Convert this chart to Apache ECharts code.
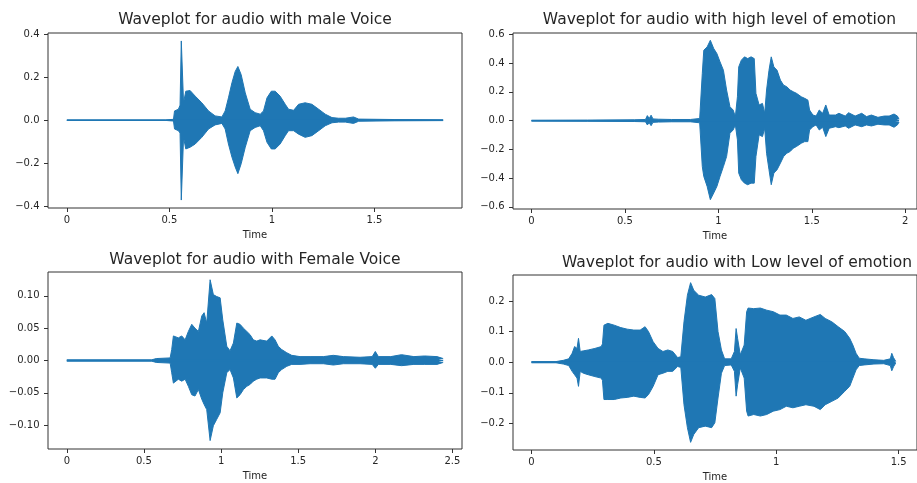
<!DOCTYPE html>
<html>
<head>
<meta charset="utf-8">
<script src="https://cdn.jsdelivr.net/npm/echarts@6/dist/echarts.min.js"></script>
<style>
  html, body { margin: 0; padding: 0; background: #fff; }
  #chart { width: 917px; height: 483px; }
</style>
</head>
<body>
<div id="chart"></div>
<script>
// male voice
var time1 = [0, 0.48, 0.52, 0.525, 0.544, 0.552, 0.558, 0.569, 0.58, 0.601, 0.626, 0.658, 0.691, 0.723, 0.756, 0.772, 0.788, 0.805, 0.821, 0.834, 0.85, 0.87, 0.894, 0.918, 0.943, 0.959, 0.976, 0.997, 1.016, 1.04, 1.065, 1.081, 1.106, 1.13, 1.162, 1.195, 1.228, 1.26, 1.293, 1.325, 1.358, 1.398, 1.423, 1.6, 1.835];
var upper1 = [0.001, 0.001, 0.004, 0.043, 0.051, 0.07, 0.369, 0.081, 0.135, 0.138, 0.112, 0.081, 0.043, 0.02, 0.015, 0.043, 0.104, 0.174, 0.227, 0.25, 0.212, 0.127, 0.051, 0.035, 0.028, 0.043, 0.104, 0.135, 0.135, 0.112, 0.074, 0.051, 0.046, 0.074, 0.081, 0.074, 0.051, 0.028, 0.012, 0.009, 0.009, 0.015, 0.005, 0.003, 0.002];
var lower1 = [-0.001, -0.001, -0.004, -0.041, -0.049, -0.06, -0.372, -0.08, -0.134, -0.126, -0.111, -0.08, -0.041, -0.022, -0.015, -0.041, -0.111, -0.172, -0.218, -0.249, -0.203, -0.126, -0.049, -0.034, -0.026, -0.049, -0.103, -0.134, -0.134, -0.111, -0.072, -0.049, -0.049, -0.065, -0.08, -0.072, -0.049, -0.026, -0.012, -0.009, -0.009, -0.015, -0.005, -0.003, -0.002];

// high level of emotion
var time2 = [0, 0.3, 0.55, 0.61, 0.62, 0.63, 0.64, 0.65, 0.66, 0.68, 0.75, 0.85, 0.9, 0.905, 0.914, 0.922, 0.94, 0.957, 0.975, 0.992, 1.009, 1.027, 1.044, 1.062, 1.079, 1.091, 1.102, 1.109, 1.123, 1.14, 1.157, 1.175, 1.192, 1.201, 1.218, 1.236, 1.248, 1.258, 1.271, 1.283, 1.297, 1.314, 1.332, 1.349, 1.366, 1.384, 1.401, 1.418, 1.444, 1.462, 1.479, 1.488, 1.506, 1.523, 1.54, 1.558, 1.575, 1.593, 1.627, 1.645, 1.679, 1.697, 1.732, 1.767, 1.793, 1.819, 1.854, 1.888, 1.914, 1.94, 1.958, 1.967];
var upper2 = [0.003, 0.004, 0.006, 0.008, 0.035, 0.015, 0.038, 0.012, 0.025, 0.01, 0.008, 0.008, 0.015, 0.028, 0.328, 0.49, 0.513, 0.559, 0.502, 0.467, 0.409, 0.351, 0.213, 0.097, 0.074, 0.028, 0.166, 0.374, 0.421, 0.444, 0.432, 0.444, 0.432, 0.19, 0.109, 0.12, 0.051, 0.213, 0.351, 0.444, 0.374, 0.351, 0.282, 0.247, 0.236, 0.213, 0.201, 0.19, 0.166, 0.155, 0.143, 0.074, 0.039, 0.032, 0.074, 0.051, 0.109, 0.039, 0.039, 0.051, 0.032, 0.055, 0.032, 0.051, 0.028, 0.039, 0.023, 0.032, 0.032, 0.046, 0.032, 0.01];
var lower2 = [-0.003, -0.004, -0.006, -0.008, -0.03, -0.015, -0.035, -0.012, -0.02, -0.01, -0.008, -0.008, -0.015, -0.023, -0.319, -0.388, -0.458, -0.55, -0.504, -0.458, -0.388, -0.319, -0.25, -0.088, -0.065, -0.03, -0.134, -0.365, -0.411, -0.435, -0.446, -0.435, -0.435, -0.25, -0.099, -0.111, -0.053, -0.227, -0.342, -0.446, -0.365, -0.342, -0.296, -0.25, -0.227, -0.215, -0.192, -0.18, -0.157, -0.146, -0.146, -0.065, -0.042, -0.03, -0.065, -0.046, -0.111, -0.053, -0.042, -0.049, -0.037, -0.053, -0.03, -0.042, -0.03, -0.037, -0.025, -0.03, -0.03, -0.046, -0.03, -0.01];

// female voice
var time3 = [0, 0.55, 0.58, 0.67, 0.68, 0.691, 0.702, 0.723, 0.745, 0.767, 0.788, 0.81, 0.831, 0.853, 0.875, 0.89, 0.907, 0.929, 0.95, 0.972, 0.994, 1.011, 1.037, 1.058, 1.08, 1.102, 1.123, 1.145, 1.167, 1.188, 1.209, 1.231, 1.253, 1.296, 1.329, 1.35, 1.371, 1.393, 1.426, 1.458, 1.512, 1.577, 1.663, 1.728, 1.793, 1.901, 1.98, 2.0, 2.02, 2.1, 2.17, 2.25, 2.32, 2.4, 2.44];
var upper3 = [0.001, 0.001, 0.003, 0.004, 0.017, 0.038, 0.035, 0.035, 0.038, 0.032, 0.045, 0.056, 0.05, 0.045, 0.069, 0.074, 0.058, 0.125, 0.102, 0.099, 0.097, 0.063, 0.022, 0.015, 0.027, 0.058, 0.056, 0.05, 0.045, 0.04, 0.032, 0.03, 0.032, 0.03, 0.038, 0.032, 0.022, 0.017, 0.012, 0.008, 0.006, 0.006, 0.006, 0.008, 0.006, 0.005, 0.006, 0.014, 0.006, 0.006, 0.009, 0.006, 0.007, 0.006, 0.003];
var lower3 = [-0.001, -0.001, -0.003, -0.004, -0.019, -0.035, -0.037, -0.029, -0.032, -0.029, -0.04, -0.053, -0.055, -0.045, -0.06, -0.068, -0.076, -0.124, -0.101, -0.091, -0.081, -0.05, -0.019, -0.014, -0.027, -0.058, -0.053, -0.045, -0.04, -0.037, -0.032, -0.029, -0.027, -0.027, -0.029, -0.029, -0.019, -0.014, -0.009, -0.006, -0.006, -0.005, -0.005, -0.007, -0.005, -0.005, -0.006, -0.012, -0.006, -0.006, -0.008, -0.006, -0.006, -0.006, -0.003];

// low level of emotion
var time4 = [0, 0.1, 0.13, 0.152, 0.166, 0.176, 0.186, 0.192, 0.199, 0.212, 0.232, 0.259, 0.285, 0.29, 0.296, 0.312, 0.338, 0.365, 0.391, 0.418, 0.444, 0.464, 0.478, 0.497, 0.517, 0.537, 0.557, 0.577, 0.597, 0.61, 0.623, 0.637, 0.65, 0.663, 0.683, 0.71, 0.736, 0.749, 0.762, 0.776, 0.789, 0.816, 0.829, 0.836, 0.842, 0.853, 0.869, 0.879, 0.885, 0.908, 0.935, 0.961, 0.988, 1.015, 1.041, 1.068, 1.094, 1.121, 1.154, 1.18, 1.2, 1.227, 1.253, 1.28, 1.3, 1.313, 1.326, 1.339, 1.359, 1.399, 1.439, 1.466, 1.472, 1.479, 1.488];
var upper4 = [0.002, 0.002, 0.006, 0.011, 0.029, 0.051, 0.045, 0.078, 0.035, 0.037, 0.04, 0.045, 0.051, 0.06, 0.121, 0.127, 0.121, 0.113, 0.108, 0.105, 0.105, 0.116, 0.1, 0.067, 0.045, 0.035, 0.04, 0.035, 0.015, 0.018, 0.132, 0.219, 0.26, 0.235, 0.219, 0.213, 0.221, 0.208, 0.1, 0.04, 0.011, 0.011, 0.035, 0.11, 0.078, 0.024, 0.056, 0.165, 0.177, 0.175, 0.177, 0.17, 0.165, 0.154, 0.154, 0.143, 0.148, 0.137, 0.148, 0.156, 0.143, 0.132, 0.116, 0.1, 0.078, 0.056, 0.029, 0.013, 0.011, 0.008, 0.006, 0.011, 0.029, 0.015, 0.003];
var lower4 = [-0.002, -0.002, -0.006, -0.011, -0.03, -0.041, -0.052, -0.079, -0.03, -0.036, -0.041, -0.047, -0.052, -0.06, -0.122, -0.122, -0.122, -0.117, -0.115, -0.111, -0.115, -0.117, -0.106, -0.079, -0.041, -0.036, -0.03, -0.03, -0.014, -0.017, -0.139, -0.214, -0.262, -0.236, -0.214, -0.209, -0.214, -0.198, -0.117, -0.036, -0.011, -0.009, -0.03, -0.111, -0.074, -0.019, -0.052, -0.16, -0.176, -0.171, -0.176, -0.171, -0.16, -0.155, -0.144, -0.149, -0.144, -0.139, -0.144, -0.155, -0.139, -0.128, -0.117, -0.095, -0.079, -0.052, -0.025, -0.011, -0.009, -0.006, -0.005, -0.011, -0.028, -0.015, -0.003];

var titles = ["Waveplot for audio with male Voice", "Waveplot for audio with high level of emotion",
  "Waveplot for audio with Female Voice", "Waveplot for audio with Low level of emotion"];
var xTicks = [[0, 0.5, 1, 1.5], [0, 0.5, 1, 1.5, 2], [0, 0.5, 1, 1.5, 2, 2.5], [0, 0.5, 1, 1.5]];
var yTicks = [[-0.4, -0.2, 0, 0.2, 0.4], [-0.6, -0.4, -0.2, 0, 0.2, 0.4, 0.6],
  [-0.1, -0.05, 0, 0.05, 0.1], [-0.2, -0.1, 0, 0.1, 0.2]];
var yDecimals = [1, 1, 2, 1];

var times = [time1, time2, time3, time4];
var uppers = [upper1, upper2, upper3, upper4];
var lowers = [lower1, lower2, lower3, lower4];

// panel layout (px) and axis limits, matplotlib style 5% margins
var grids = [
  { left: 48, top: 33, width: 414, height: 175 },
  { left: 513, top: 33, width: 414, height: 176 },
  { left: 48, top: 272, width: 414, height: 177 },
  { left: 513, top: 275, width: 414, height: 176 }
];
var xLim = [[-0.092, 1.927], [-0.099, 2.063], [-0.122, 2.562], [-0.0756, 1.575]];
var yLim = [[-0.409, 0.406], [-0.615, 0.61], [-0.137, 0.137], [-0.287, 0.285]];
var titlePos = [[255, 20, "center"], [719.5, 20, "center"], [255, 260, "center"], [562, 263, "left"]];

var FONT = "DejaVu Sans";
var TXT = "#262626";
var BLUE = "#1f77b4";

function minus(s) {
  return s.replace("-", "\u2212");
}

var xAxes = [], yAxes = [], series = [], graphic = [];
for (var i = 0; i < 4; i++) {
  xAxes.push({
    type: "value",
    gridIndex: i,
    min: xLim[i][0],
    max: xLim[i][1],
    name: "Time",
    nameLocation: "middle",
    nameGap: 22,
    nameTextStyle: { fontFamily: FONT, fontSize: 10, color: TXT },
    splitLine: { show: false },
    axisLine: { show: false, onZero: false },
    axisTick: { show: true, length: 4, lineStyle: { color: "#333" }, customValues: xTicks[i] },
    axisLabel: {
      fontFamily: FONT, fontSize: 10, color: TXT, margin: 7,
      customValues: xTicks[i],
      formatter: function (v) { return minus(String(v)); }
    }
  });
  (function (d) {
    yAxes.push({
      type: "value",
      gridIndex: i,
      min: yLim[i][0],
      max: yLim[i][1],
      splitLine: { show: false },
      axisLine: { show: false, onZero: false },
      axisTick: { show: true, length: 4, lineStyle: { color: "#333" }, customValues: yTicks[i] },
      axisLabel: {
        fontFamily: FONT, fontSize: 10, color: TXT, margin: 8.5,
        customValues: yTicks[i],
        formatter: function (v) { return minus(v.toFixed(d)); }
      }
    });
  })(yDecimals[i]);

  var t = times[i];
  [uppers[i], lowers[i]].forEach(function (arr) {
    series.push({
      type: "line",
      xAxisIndex: i,
      yAxisIndex: i,
      data: t.map(function (x, k) { return [x, arr[k]]; }),
      showSymbol: false,
      symbol: "none",
      silent: true,
      animation: false,
      lineStyle: { color: BLUE, width: 1 },
      areaStyle: { color: BLUE, opacity: 1 }
    });
  });
  // centre line, hides the seam between the two filled halves
  series.push({
    type: "line",
    xAxisIndex: i,
    yAxisIndex: i,
    data: [[t[0], 0], [t[t.length - 1], 0]],
    showSymbol: false,
    symbol: "none",
    silent: true,
    animation: false,
    lineStyle: { color: BLUE, width: 1.5 }
  });

  graphic.push({
    type: "text",
    x: titlePos[i][0],
    y: titlePos[i][1],
    style: {
      text: titles[i],
      font: "15.5px '" + FONT + "'",
      fill: TXT,
      textAlign: titlePos[i][2],
      textVerticalAlign: "middle"
    }
  });
}

var chart = echarts.init(document.getElementById("chart"), null, { renderer: "canvas" });
chart.setOption({
  backgroundColor: "#fff",
  animation: false,
  grid: grids.map(function (g) {
    return Object.assign({ show: true, borderColor: "#333", borderWidth: 1, backgroundColor: "transparent" }, g);
  }),
  xAxis: xAxes,
  yAxis: yAxes,
  series: series,
  graphic: graphic
});
</script>
</body>
</html>
